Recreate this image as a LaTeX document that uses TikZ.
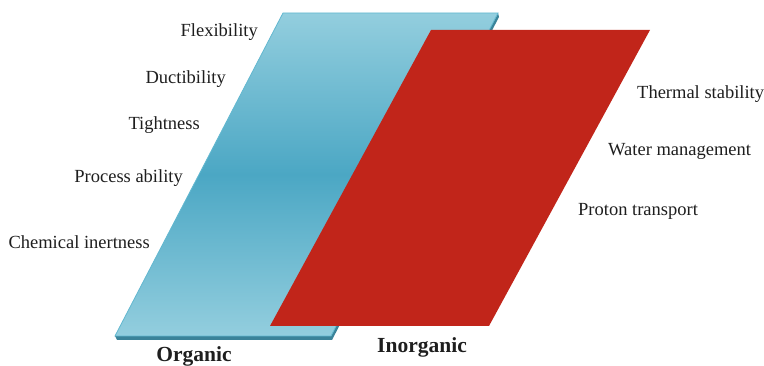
\documentclass[tikz,border=0pt]{standalone}
\usepackage{fontspec}
\setmainfont{Liberation Serif}
\usepackage{tikz}
\usetikzlibrary{positioning, calc}
\definecolor{memBlueLight}{HTML}{93CEDE}
\definecolor{memBlueDark}{HTML}{4BA7C4}
\definecolor{memBlueEdge}{HTML}{62B8D0}
\definecolor{memBlueSide}{HTML}{3A8399}
\definecolor{memRed}{HTML}{C1251A}
\definecolor{memText}{HTML}{1E1E1E}
\tikzset{
  mem/prop/.style  = {font=\fontsize{18.5}{20}\selectfont, text=memText, inner sep=0pt},
  mem/title/.style = {font=\fontsize{21.5}{23}\selectfont\bfseries, text=memText, inner sep=0pt},
  mem/slab/.style  = {fill=memBlueSide},
  mem/face/.style  = {top color=memBlueLight, bottom color=memBlueLight, middle color=memBlueDark,
                      draw=memBlueEdge, line width=0.8pt},
  mem/sheet/.style = {fill=memRed},
}

\begin{document}
\begin{tikzpicture}[x=1pt, y=-1pt]
      \useasboundingbox (0,0) rectangle (764,366);
      % organic layer corners
      \coordinate (otl) at (283,13);
      \coordinate (otr) at (498,13);
      \coordinate (obr) at (331,336);
      \coordinate (obl) at (115,336);
      % inorganic layer corners
      \coordinate (itl) at (431,30);
      \coordinate (itr) at (650,30);
      \coordinate (ibr) at (489,326);
      \coordinate (ibl) at (270,326);
      % organic slab, thickness below and right
      \fill[mem/slab] (otr) -- ($(otr)+(1,4)$) -- ($(obr)+(1,4)$) -- ($(obl)+(2,4)$) -- (obl) -- (obr) -- cycle;
      \shade[mem/face] (otl) -- (otr) -- (obr) -- (obl) -- cycle;
      % inorganic sheet on top
      \fill[mem/sheet] (itl) -- (itr) -- (ibr) -- (ibl) -- cycle;
      % organic properties
      \node[mem/prop, anchor=base east] (flex)  at (258,37)  {Flexibility};
      \node[mem/prop, anchor=base east] (duct)  at (226,84)  {Ductibility};
      \node[mem/prop, anchor=base east] (tight) at (200,130) {Tightness};
      \node[mem/prop, anchor=base east] (proc)  at (183,183) {Process ability};
      \node[mem/prop, anchor=base east] (chem)  at (150,249) {Chemical inertness};
      % inorganic properties
      \node[mem/prop, anchor=base west] (therm) at (637,99)  {Thermal stability};
      \node[mem/prop, anchor=base west] (water) at (608,156) {Water management};
      \node[mem/prop, anchor=base west] (prot)  at (578,216) {Proton transport};
      % layer names
      \node[mem/title, anchor=base] (org)   at (194,362) {Organic};
      \node[mem/title, anchor=base] (inorg) at (422,353) {Inorganic};
    \end{tikzpicture}
\end{document}
